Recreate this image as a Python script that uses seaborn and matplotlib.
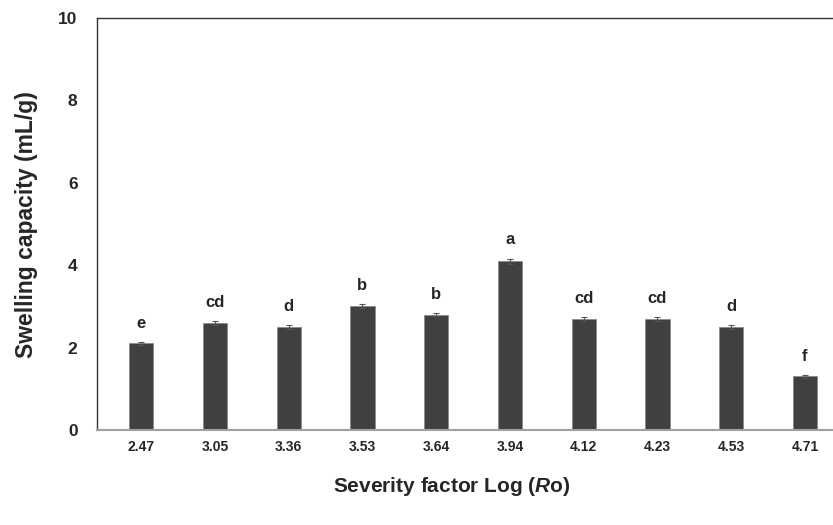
import matplotlib
matplotlib.use("Agg")
import pandas as pd
import seaborn as sns
from matplotlib import pyplot as plt

severity = ["2.47", "3.05", "3.36", "3.53", "3.64", "3.94", "4.12", "4.23", "4.53", "4.71"]
swelling = [2.1, 2.6, 2.5, 3.0, 2.8, 4.1, 2.7, 2.7, 2.5, 1.3]
errors = [0.04, 0.04, 0.05, 0.05, 0.04, 0.06, 0.05, 0.05, 0.05, 0.03]
letters = ["e", "cd", "d", "b", "b", "a", "cd", "cd", "d", "f"]

sns.set_style("white")
plt.rcParams["font.family"] = ["Liberation Sans", "DejaVu Sans"]
plt.rcParams["font.weight"] = "bold"
plt.rcParams["mathtext.fontset"] = "custom"
plt.rcParams["mathtext.it"] = "Liberation Sans:italic:bold"
plt.rcParams["mathtext.rm"] = "Liberation Sans:bold"

df = pd.DataFrame({"severity": severity, "swelling": swelling})

fig = plt.figure(figsize=(8.33, 5.25), dpi=100)
ax = fig.add_axes([97 / 833, 1 - 430 / 525, 1 - 97 / 833, 412 / 525])

sns.barplot(data=df, x="severity", y="swelling", order=severity, color="#404040",
            width=0.33, errorbar=None, saturation=1, edgecolor="#8a8a8a",
            linewidth=0.6, ax=ax)
xs = list(range(len(severity)))
ax.errorbar(xs, swelling, yerr=errors, fmt="none", ecolor="#555555",
            elinewidth=0.8, capsize=2.5, capthick=0.8)
for x, y, e, lab in zip(xs, swelling, errors, letters):
    ax.annotate(lab, (x, y + e), xytext=(0, 8), textcoords="offset points",
                ha="center", va="bottom", fontsize=12, fontweight="bold")

ax.set_xlim(-0.6, 9.38)
ax.set_ylim(0, 10)
ax.set_yticks([0, 2, 4, 6, 8, 10])
ax.tick_params(axis="both", length=0)
ax.tick_params(axis="y", labelsize=12.5, pad=14)
ax.tick_params(axis="x", labelsize=10, pad=7)
for t in ax.get_xticklabels() + ax.get_yticklabels():
    t.set_fontweight("bold")
ax.set_xlabel("")
ax.set_ylabel("")

for side in ["left", "top"]:
    ax.spines[side].set_color("#333333")
    ax.spines[side].set_linewidth(1.0)
ax.spines["bottom"].set_color("#a0a0a0")
ax.spines["bottom"].set_linewidth(1.5)
ax.spines["right"].set_visible(False)

fig.text(27 / 833, 1 - 225 / 525, "Swelling capacity (mL/g)", rotation=90,
         ha="center", va="center", fontsize=16.5, fontweight="bold")
fig.text(452 / 833, 1 - 486 / 525, r"Severity factor Log ($\mathit{R}$o)",
         ha="center", va="center", fontsize=15, fontweight="bold")

fig.savefig("out.png", dpi=100)
